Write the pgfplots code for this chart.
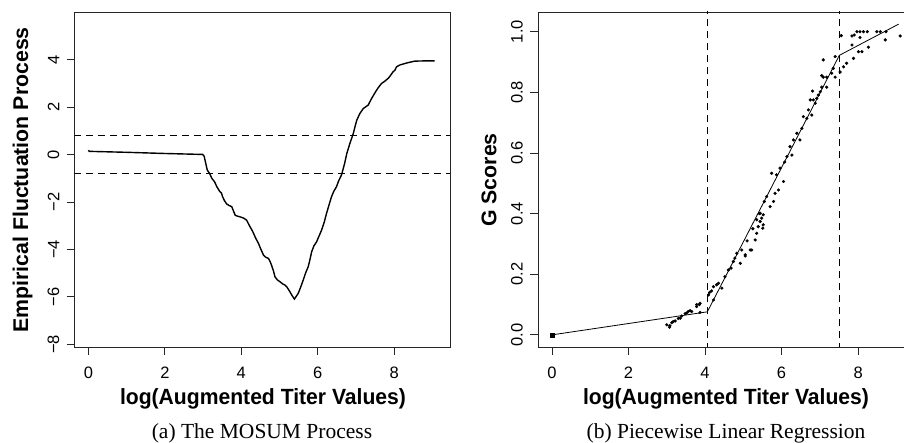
\documentclass[border=0pt]{standalone}
\usepackage{fontspec}
\setmainfont{Liberation Serif}
\newfontfamily\hv{Liberation Sans}
\usepackage{pgfplots}
\pgfplotsset{compat=1.18}

\pgfplotstableread{
x y
0.00 0.18
0.02 0.13
1.00 0.09
2.00 0.04
2.99 0.00
3.03 -0.08
3.05 -0.24
3.08 -0.45
3.11 -0.66
3.17 -0.80
3.23 -1.01
3.30 -1.15
3.36 -1.36
3.44 -1.57
3.48 -1.62
3.51 -1.78
3.56 -1.95
3.62 -2.09
3.68 -2.15
3.75 -2.20
3.80 -2.40
3.84 -2.56
3.90 -2.60
3.97 -2.63
4.06 -2.68
4.14 -2.77
4.18 -2.90
4.23 -3.05
4.30 -3.25
4.36 -3.47
4.40 -3.60
4.45 -3.75
4.50 -3.95
4.58 -4.24
4.64 -4.33
4.71 -4.38
4.75 -4.50
4.79 -4.66
4.84 -4.90
4.88 -5.15
4.94 -5.28
5.01 -5.36
5.08 -5.45
5.14 -5.50
5.20 -5.60
5.27 -5.78
5.33 -5.95
5.39 -6.09
5.44 -5.97
5.49 -5.85
5.55 -5.60
5.62 -5.29
5.68 -5.00
5.75 -4.73
5.80 -4.40
5.84 -4.10
5.90 -3.85
5.97 -3.68
6.03 -3.45
6.10 -3.19
6.17 -2.85
6.23 -2.48
6.30 -2.10
6.36 -1.78
6.42 -1.55
6.49 -1.36
6.55 -1.10
6.62 -0.87
6.70 -0.40
6.76 0.04
6.84 0.46
6.93 0.88
6.98 1.20
7.02 1.44
7.10 1.72
7.19 1.93
7.25 2.00
7.32 2.08
7.41 2.36
7.48 2.55
7.54 2.71
7.60 2.85
7.67 2.99
7.75 3.08
7.84 3.20
7.90 3.32
7.97 3.48
8.02 3.55
8.06 3.69
8.15 3.77
8.28 3.83
8.40 3.88
8.54 3.93
8.80 3.94
9.06 3.94
}\mosum

\pgfplotstableread{
x y
0.00 0.000
0.02 0.000
3.00 0.033
3.07 0.025
3.08 0.030
3.13 0.040
3.17 0.044
3.22 0.046
3.30 0.054
3.35 0.055
3.39 0.062
3.48 0.070
3.52 0.072
3.56 0.077
3.61 0.080
3.65 0.077
3.78 0.093
3.78 0.100
3.85 0.100
3.87 0.104
3.87 0.074
4.09 0.132
4.12 0.140
4.17 0.145
4.22 0.159
4.22 0.115
4.30 0.165
4.35 0.170
4.44 0.154
4.52 0.192
4.61 0.214
4.68 0.220
4.74 0.242
4.78 0.253
4.83 0.269
4.92 0.236
4.96 0.280
5.05 0.264
5.05 0.260
5.10 0.310
5.18 0.280
5.22 0.280
5.25 0.350
5.31 0.313
5.35 0.335
5.35 0.380
5.39 0.357
5.42 0.400
5.44 0.374
5.44 0.401
5.48 0.385
5.51 0.352
5.52 0.363
5.52 0.396
5.55 0.440
5.61 0.456
5.70 0.423
5.74 0.533
5.79 0.440
5.83 0.467
5.87 0.528
5.92 0.478
5.96 0.550
6.05 0.506
6.08 0.570
6.14 0.588
6.22 0.621
6.27 0.593
6.31 0.643
6.40 0.665
6.48 0.643
6.53 0.681
6.57 0.720
6.66 0.714
6.70 0.742
6.75 0.775
6.79 0.725
6.81 0.804
6.83 0.775
6.88 0.764
6.92 0.780
6.96 0.791
7.01 0.802
7.05 0.817
7.05 0.855
7.09 0.850
7.09 0.907
7.18 0.817
7.18 0.850
7.31 0.863
7.35 0.879
7.40 0.918
7.40 0.850
7.53 0.867
7.56 0.987
7.62 0.884
7.70 0.896
7.84 0.956
7.84 0.986
7.88 0.912
7.90 0.989
7.97 1.000
8.01 0.934
8.05 1.000
8.05 0.981
8.10 0.934
8.14 1.000
8.24 1.000
8.27 0.949
8.49 1.000
8.58 1.000
8.71 0.973
8.73 1.000
9.10 0.986
}\gscores

\pgfplotstableread{
x y
0.00 0.000
4.06 0.076
7.51 0.922
9.06 1.025
}\fit

\pgfplotsset{
  rplot/.style={
    scale only axis,
    anchor=south west,
    height=335pt,
    axis line style={black!85, line width=0.8pt},
    tick align=outside,
    xtick pos=bottom, ytick pos=left,
    major tick length=8pt,
    every tick/.style={black!85, line width=0.8pt},
    tick label style={font=\hv\fontsize{16.5}{19}\selectfont, inner sep=0pt},
    /pgf/number format/assume math mode=true,
    xticklabel style={anchor=north, yshift=-12pt},
    yticklabel style={xshift=-7pt, rotate=90, anchor=south},
    xtick={0,2,4,6,8},
    xticklabels={0,2,4,6,8},
    clip=true,
  },
}

\begin{document}
\begin{tikzpicture}[x=1pt,y=1pt]
\useasboundingbox (0,0) rectangle (904,443);

\begin{axis}[rplot,
  at={(74.5pt,96pt)}, width=375.5pt,
  xmin=-0.364, xmax=9.46, ymin=-8.11, ymax=6.0,
  ytick={-8,-6,-4,-2,0,2,4},
  yticklabels={−8,−6,−4,−2,0,2,4},
]
\addplot[black, line width=1.4pt] table {\mosum};
\addplot[black, line width=0.9pt, dash pattern=on 7pt off 5pt] coordinates {(-1,0.8) (10,0.8)};
\addplot[black, line width=0.9pt, dash pattern=on 7pt off 5pt] coordinates {(-1,-0.8) (10,-0.8)};
\end{axis}

\begin{axis}[rplot,
  at={(538pt,96pt)}, width=366pt,
  axis x line*=box, axis y line*=left,
  xmin=-0.366, xmax=9.20, ymin=-0.04, ymax=1.065,
  ytick={0,0.2,0.4,0.6,0.8,1.0},
  yticklabels={0.0,0.2,0.4,0.6,0.8,1.0},
]
\addplot[black, line width=0.8pt] table {\fit};
\addplot[only marks, mark=*, mark size=1.4pt, black] table {\gscores};
\addplot[only marks, mark=square*, mark size=2pt, black] coordinates {(0,0)};
\addplot[black, line width=0.9pt, dash pattern=on 7pt off 5pt] coordinates {(4.06,-1) (4.06,2)};
\addplot[black, line width=0.9pt, dash pattern=on 7pt off 5pt] coordinates {(7.51,-1) (7.51,2)};
\end{axis}

\node[font=\hv\bfseries\fontsize{22}{26}\selectfont, xscale=0.96] at (263,43.7) {log(Augmented Titer Values)};
\node[font=\hv\bfseries\fontsize{22}{26}\selectfont, xscale=0.96] at (726,43.7) {log(Augmented Titer Values)};
\node[font=\hv\bfseries\fontsize{21.3}{25}\selectfont, rotate=90] at (22.5,263) {Empirical Fluctuation Process};
\node[font=\hv\bfseries\fontsize{21.3}{25}\selectfont, rotate=90] at (489,263) {G Scores};
\node[font=\fontsize{21.5}{25}\selectfont] at (262,10) {(a) The MOSUM Process};
\node[font=\fontsize{21.5}{25}\selectfont] at (726,10) {(b) Piecewise Linear Regression};
\end{tikzpicture}
\end{document}
